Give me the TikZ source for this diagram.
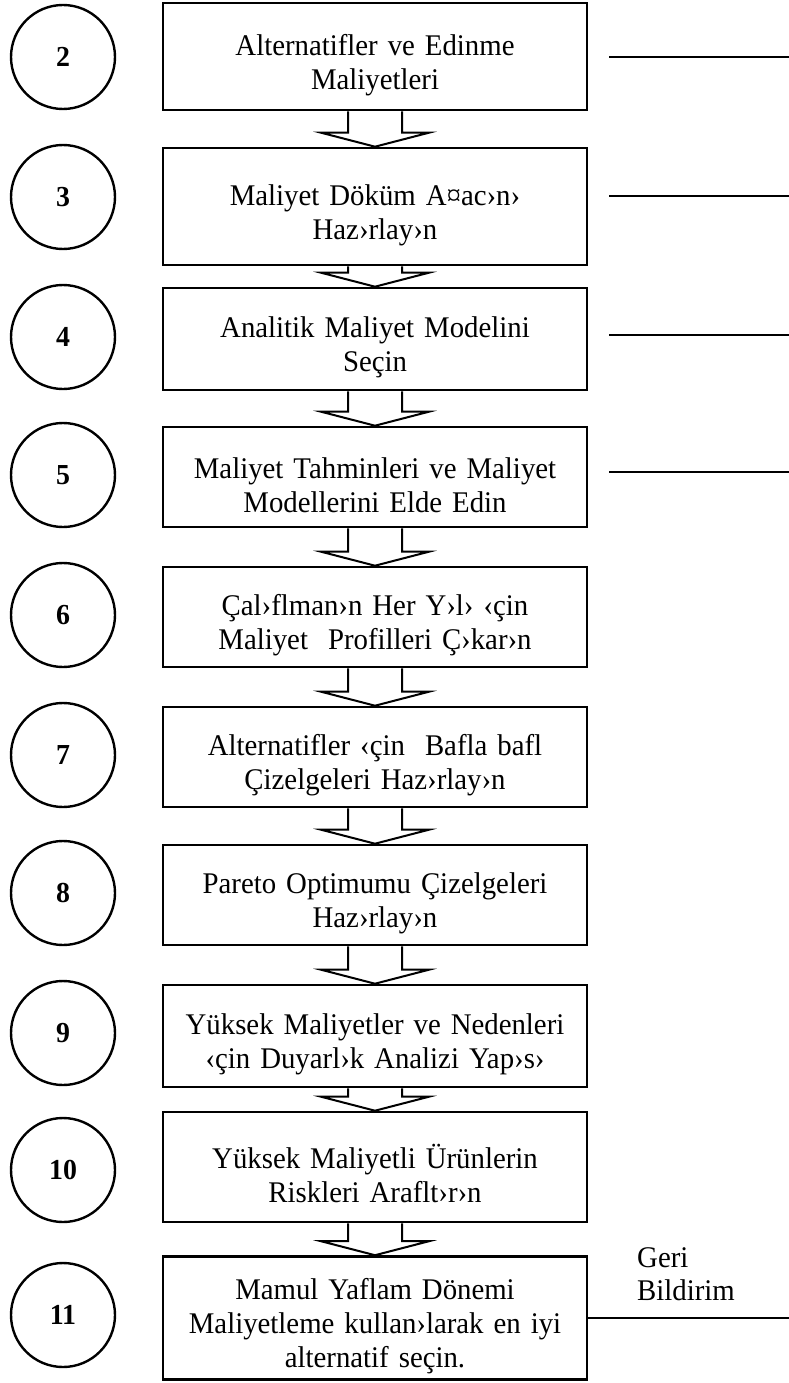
\documentclass[tikz,border=0pt]{standalone}
\usepackage{fontspec}
\setmainfont{Liberation Serif}[FakeStretch=0.96]
\usetikzlibrary{calc}
\tikzset{
  stepbox/.style={draw, line width=2.6pt, minimum width=424pt, align=center, text width=420pt, inner sep=0pt, font=\fontsize{30}{34}\selectfont, execute at begin node={\rule{0pt}{38pt}}},
  numcirc/.style={draw, circle, line width=2.4pt, minimum size=104pt, inner sep=0pt, font=\fontsize{29}{30}\selectfont\bfseries},
  conn/.style={line width=2pt},
  blockarr/.style={line width=2pt, line join=miter},
}
\newcommand{\blockarrow}[2]{%
  \draw[blockarr] ($(#1.south)+(-27pt,0)$) -- ($(#2.north)+(-27pt,14pt)$) -- ($(#2.north)+(-54pt,14pt)$) -- (#2.north) -- ($(#2.north)+(54pt,14pt)$) -- ($(#2.north)+(27pt,14pt)$) -- ($(#1.south)+(27pt,0)$);}
\begin{document}
\begin{tikzpicture}[x=1pt,y=-1pt]
\useasboundingbox (0,0) rectangle (789,1383);
% boxes
\node[stepbox, minimum height=107pt] (b1) at (375,56.5) {Alternatifler ve Edinme\\Maliyetleri};
\node[stepbox, minimum height=117pt] (b2) at (375,206.5) {Maliyet Döküm A¤ac›n›\\Haz›rlay›n};
\node[stepbox, minimum height=102pt] (b3) at (375,339) {Analitik Maliyet Modelini\\Seçin};
\node[stepbox, minimum height=100pt] (b4) at (375,477) {Maliyet Tahminleri ve Maliyet\\Modellerini Elde Edin};
\node[stepbox, minimum height=100pt] (b5) at (375,617) {Çal›flman›n Her Y›l› ‹çin\\Maliyet\ \ Profilleri Ç›kar›n};
\node[stepbox, minimum height=100pt] (b6) at (375,757) {Alternatifler ‹çin\ \ Bafla bafl\\Çizelgeleri Haz›rlay›n};
\node[stepbox, minimum height=100pt] (b7) at (375,895) {Pareto Optimumu Çizelgeleri\\Haz›rlay›n};
\node[stepbox, minimum height=102pt] (b8) at (375,1036) {Yüksek Maliyetler ve Nedenleri\\‹çin Duyarl›k Analizi Yap›s›};
\node[stepbox, minimum height=110pt] (b9) at (375,1167) {Yüksek Maliyetli Ürünlerin\\Riskleri Araflt›r›n};
\node[stepbox, minimum height=123pt] (b10) at (375,1318) {Mamul Yaflam Dönemi\\Maliyetleme kullan›larak en iyi\\alternatif seçin.};
% arrows
\blockarrow{b1}{b2}
\blockarrow{b2}{b3}
\blockarrow{b3}{b4}
\blockarrow{b4}{b5}
\blockarrow{b5}{b6}
\blockarrow{b6}{b7}
\blockarrow{b7}{b8}
\blockarrow{b8}{b9}
\blockarrow{b9}{b10}
% circles
\node[numcirc] (c2) at (63,57) {2};
\node[numcirc] (c3) at (63,197) {3};
\node[numcirc] (c4) at (63,337) {4};
\node[numcirc] (c5) at (63,475) {5};
\node[numcirc] (c6) at (63,615) {6};
\node[numcirc] (c7) at (63,755) {7};
\node[numcirc] (c8) at (63,893) {8};
\node[numcirc] (c9) at (63,1033) {9};
\node[numcirc] (c10) at (63,1170) {10};
\node[numcirc] (c11) at (63,1315) {11};
% right lines
\coordinate (r1a) at (609,57); \coordinate (r1b) at (789,57);
\coordinate (r2a) at (609,196); \coordinate (r2b) at (789,196);
\coordinate (r3a) at (609,335); \coordinate (r3b) at (789,335);
\coordinate (r4a) at (609,472); \coordinate (r4b) at (789,472);
\draw[conn] (r1a) -- (r1b);
\draw[conn] (r2a) -- (r2b);
\draw[conn] (r3a) -- (r3b);
\draw[conn] (r4a) -- (r4b);
% feedback
\coordinate (fb) at (789,1318);
\draw[conn] (b10.east) -- (fb);
\node[align=left, anchor=base west, inner sep=0pt, font=\fontsize{30}{33}\selectfont] (geri) at (637,1300) {Geri\\Bildirim};
\end{tikzpicture}
\end{document}
